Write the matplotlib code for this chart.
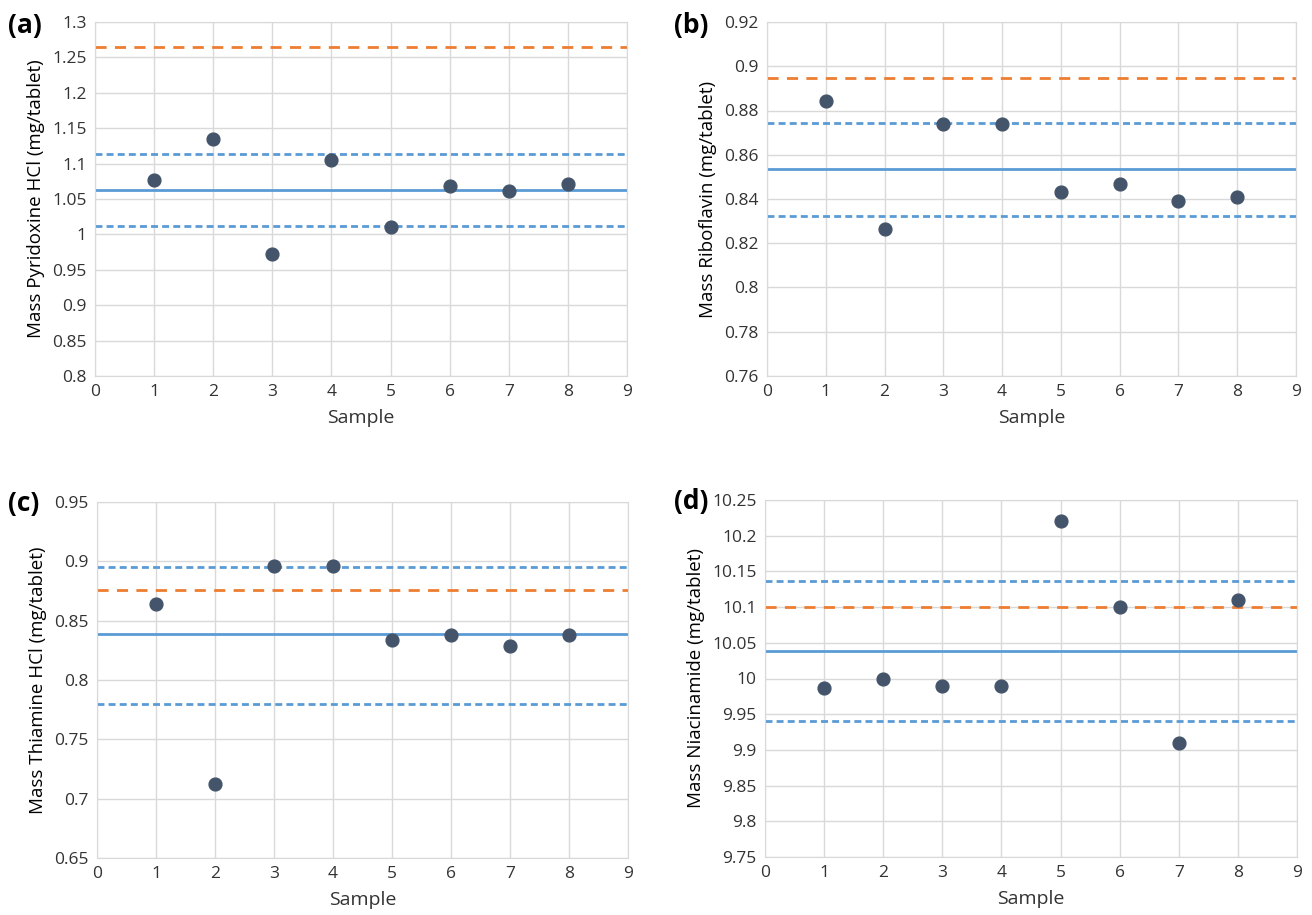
import matplotlib.pyplot as plt
from matplotlib.ticker import FuncFormatter

plt.rcParams['font.family'] = ['Open Sans', 'DejaVu Sans']

samples = [1, 2, 3, 4, 5, 6, 7, 8]

# (a) pyridoxine HCl
pyridoxine = [1.077, 1.135, 0.973, 1.105, 1.010, 1.069, 1.061, 1.071]
pyridoxine_lines = {'mean': 1.063, 'upper': 1.113, 'lower': 1.012, 'label': 1.265}

# (b) riboflavin
riboflavin = [0.8845, 0.8265, 0.874, 0.874, 0.843, 0.847, 0.839, 0.841]
riboflavin_lines = {'mean': 0.8535, 'upper': 0.8745, 'lower': 0.8325, 'label': 0.8945}

# (c) thiamine HCl
thiamine = [0.864, 0.712, 0.896, 0.896, 0.834, 0.838, 0.829, 0.838]
thiamine_lines = {'mean': 0.839, 'upper': 0.895, 'lower': 0.780, 'label': 0.876}

# (d) niacinamide
niacinamide = [9.987, 10.000, 9.990, 9.990, 10.220, 10.100, 9.910, 10.110]
niacinamide_lines = {'mean': 10.038, 'upper': 10.137, 'lower': 9.940, 'label': 10.100}

panels = [
    ('(a)', 'Mass Pyridoxine HCl (mg/tablet)', pyridoxine, pyridoxine_lines, (0.8, 1.3), 0.05),
    ('(b)', 'Mass Riboflavin (mg/tablet)', riboflavin, riboflavin_lines, (0.76, 0.92), 0.02),
    ('(c)', 'Mass Thiamine HCl (mg/tablet)', thiamine, thiamine_lines, (0.65, 0.95), 0.05),
    ('(d)', 'Mass Niacinamide (mg/tablet)', niacinamide, niacinamide_lines, (9.75, 10.25), 0.05),
]

# axes rectangles in figure fractions (left, bottom, width, height)
W, H = 1312, 915
rects = [
    (95 / W, 1 - 376 / H, 532 / W, 354 / H),
    (767 / W, 1 - 376 / H, 529 / W, 354 / H),
    (97 / W, 1 - 858 / H, 531 / W, 356 / H),
    (765 / W, 1 - 857 / H, 532 / W, 357 / H),
]
# panel tag positions (figure pixels from top-left)
tag_pos = [(8, 25), (674, 25), (8, 504), (674, 502)]

blue = '#5B9BD5'
orange = '#ED7D31'
dot = '#44546A'
grid = '#D9D9D9'


def fmt(v, pos):
    s = ('%.2f' % v).rstrip('0').rstrip('.')
    return s


fig = plt.figure(figsize=(13.12, 9.15), dpi=100)

for (tag, ylabel, vals, lines, ylim, step), r, tp in zip(panels, rects, tag_pos):
    ax = fig.add_axes(r)
    ax.set_xlim(0, 9)
    ax.set_ylim(*ylim)
    ax.set_xticks(range(0, 10))
    n = int(round((ylim[1] - ylim[0]) / step))
    ax.set_yticks([ylim[0] + i * step for i in range(n + 1)])
    ax.yaxis.set_major_formatter(FuncFormatter(fmt))
    ax.grid(True, color=grid, linewidth=1)
    ax.set_axisbelow(True)
    for s in ax.spines.values():
        s.set_color(grid)
    ax.tick_params(length=0, labelsize=12.5, colors='#333333', pad=6)

    ax.axhline(lines['label'], color=orange, linewidth=2, dashes=(4, 3))
    ax.axhline(lines['upper'], color=blue, linewidth=2, dashes=(2.5, 1.5))
    ax.axhline(lines['lower'], color=blue, linewidth=2, dashes=(2.5, 1.5))
    ax.axhline(lines['mean'], color=blue, linewidth=2)
    ax.scatter(samples, vals, s=85, color=dot, zorder=5)

    ax.set_xlabel('Sample', fontsize=14, color='#333333', labelpad=6)
    ax.set_ylabel(ylabel, fontsize=13.5, color='black', labelpad=5)
    fig.text(tp[0] / W, 1 - tp[1] / H, tag, fontsize=19,
             fontweight='bold', ha='left', va='center')

fig.savefig('out.png', dpi=100)
